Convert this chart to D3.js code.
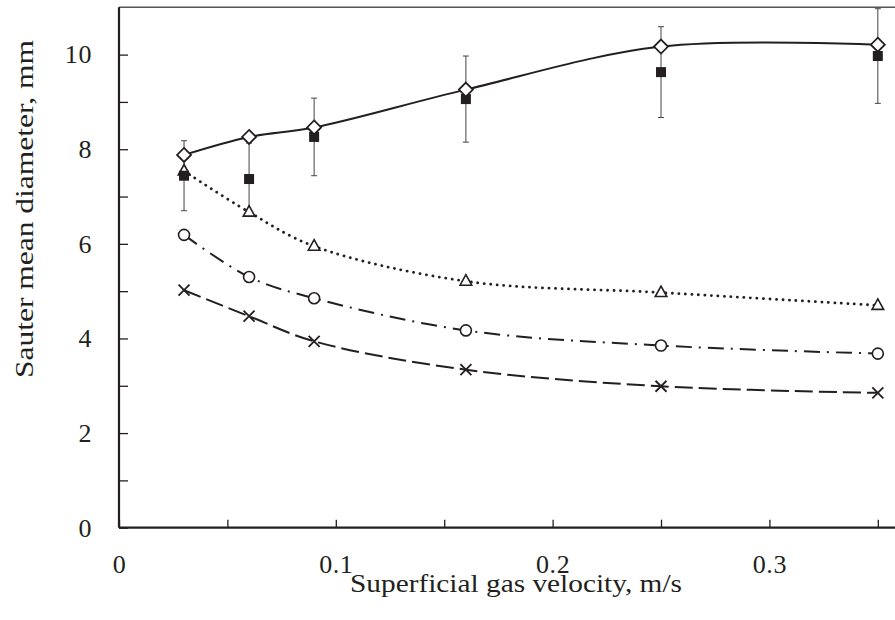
<!DOCTYPE html>
<html><head><meta charset="utf-8">
<script src="https://cdn.jsdelivr.net/npm/d3@7"></script>
<style>body{margin:0;background:#fff}svg{display:block}</style>
</head><body>
<svg id="c" width="895" height="620"></svg>
<script>
const velocity = [0.03, 0.06, 0.09, 0.16, 0.25, 0.35];
const diamondSeries = [7.88, 8.26, 8.46, 9.26, 10.17, 10.21];
const squareSeries = [7.44, 7.37, 8.26, 9.06, 9.63, 9.97];
const squareError = [0.74, 0.76, 0.82, 0.91, 0.96, 1.0];
const triangleSeries = [7.54, 6.67, 5.95, 5.21, 4.97, 4.70];
const circleSeries = [6.19, 5.30, 4.85, 4.17, 3.85, 3.68];
const crossSeries = [5.02, 4.47, 3.94, 3.34, 2.99, 2.85];
const xTickValues = [0, 0.05, 0.1, 0.15, 0.2, 0.25, 0.3, 0.35];
const xTickLabels = ["0", "", "0.1", "", "0.2", "", "0.3", ""];
const yTickValues = [0,1,2,3,4,5,6,7,8,9,10];
const yTickLabels = ["0","","2","","4","","6","","8","","10"];
const xTitle = "Superficial gas velocity, m/s";
const yTitle = "Sauter mean diameter, mm";

const ink = "#231f20";
const font = "Liberation Serif";
const svg = d3.select("#c");
const x = d3.scaleLinear().domain([0, 0.36]).range([119, 119 + 780.5]);
const y = d3.scaleLinear().domain([0, 11]).range([527.7, 7.3]);

// top frame line
svg.append("line").attr("x1", 119).attr("x2", 895).attr("y1", y(11)).attr("y2", y(11))
  .attr("stroke", "#555").attr("stroke-width", 1.5);

// axes
const xa = svg.append("g").attr("transform", `translate(0,${y(0)})`)
  .call(d3.axisBottom(x).tickValues(xTickValues).tickSize(-8).tickPadding(27)
    .tickFormat((d, i) => xTickLabels[i]));
const ya = svg.append("g").attr("transform", `translate(${x(0)},0)`)
  .call(d3.axisLeft(y).tickValues(yTickValues).tickSize(-9).tickPadding(27)
    .tickFormat((d, i) => yTickLabels[i]));
[xa, ya].forEach(g => {
  g.attr("font-family", font).attr("font-size", 26);
  g.select(".domain").attr("stroke", ink).attr("stroke-width", 2.2);
  g.selectAll(".tick line").attr("stroke", ink).attr("stroke-width", 1.3);
  g.selectAll("text").style("font-family", font).style("font-size", "26px").attr("fill", ink)
    .attr("letter-spacing", 0.6);
});
xa.select(".domain").attr("d", `M${x(0)},0H895`);
ya.select(".domain").attr("d", `M0,${y(0)}V${y(11)}`);

const pts = vals => velocity.map((v, i) => [x(v), y(vals[i])]);
const curve = d3.curveCatmullRom.alpha(0.5);
const lineGen = d3.line().curve(curve);

// error bars
const eb = svg.append("g").attr("stroke", "#444").attr("stroke-width", 1);
velocity.forEach((v, i) => {
  const cx = x(v), t = y(squareSeries[i] + squareError[i]), b = y(squareSeries[i] - squareError[i]);
  eb.append("line").attr("x1", cx).attr("x2", cx).attr("y1", t).attr("y2", b);
  eb.append("line").attr("x1", cx - 3).attr("x2", cx + 3).attr("y1", t).attr("y2", t);
  eb.append("line").attr("x1", cx - 3).attr("x2", cx + 3).attr("y1", b).attr("y2", b);
});

// lines
svg.append("path").attr("d", lineGen(pts(diamondSeries))).attr("fill", "none")
  .attr("stroke", ink).attr("stroke-width", 2);
svg.append("path").attr("d", lineGen(pts(triangleSeries))).attr("fill", "none")
  .attr("stroke", ink).attr("stroke-width", 2.8).attr("stroke-linecap", "round")
  .attr("stroke-dasharray", "0.1,6.4");
svg.append("path").attr("d", lineGen(pts(circleSeries))).attr("fill", "none")
  .attr("stroke", ink).attr("stroke-width", 2).attr("stroke-dasharray", "16,7,2,7");
svg.append("path").attr("d", lineGen(pts(crossSeries))).attr("fill", "none")
  .attr("stroke", ink).attr("stroke-width", 2).attr("stroke-dasharray", "18,6");

// triangles
pts(triangleSeries).forEach(([px, py]) => {
  svg.append("path").attr("d", `M${px},${py - 6.5}L${px + 5.8},${py + 4}L${px - 5.8},${py + 4}Z`)
    .attr("fill", "#fff").attr("stroke", ink).attr("stroke-width", 1.6);
});
// circles
pts(circleSeries).forEach(([px, py]) => {
  svg.append("circle").attr("cx", px).attr("cy", py).attr("r", 5.5)
    .attr("fill", "#fff").attr("stroke", ink).attr("stroke-width", 1.6);
});
// crosses
pts(crossSeries).forEach(([px, py]) => {
  svg.append("path").attr("d", `M${px - 5.5},${py - 5.5}L${px + 5.5},${py + 5.5}M${px + 5.5},${py - 5.5}L${px - 5.5},${py + 5.5}`)
    .attr("stroke", ink).attr("stroke-width", 1.8);
});
// squares
pts(squareSeries).forEach(([px, py]) => {
  svg.append("rect").attr("x", px - 5).attr("y", py - 5).attr("width", 10).attr("height", 10)
    .attr("fill", ink);
});
// diamonds
pts(diamondSeries).forEach(([px, py]) => {
  svg.append("path").attr("d", `M${px},${py - 7}L${px + 7},${py}L${px},${py + 7}L${px - 7},${py}Z`)
    .attr("fill", "#fff").attr("stroke", ink).attr("stroke-width", 1.8);
});

// titles
svg.append("text").attr("x", 516).attr("y", 592).attr("text-anchor", "middle")
  .attr("textLength", 332).attr("lengthAdjust", "spacingAndGlyphs")
  .style("font-family", font).style("font-size", "25px").attr("fill", ink).text(xTitle);
svg.append("text").attr("transform", "translate(33,209) rotate(-90)").attr("text-anchor", "middle")
  .attr("textLength", 338).attr("lengthAdjust", "spacingAndGlyphs")
  .style("font-family", font).style("font-size", "25px").attr("fill", ink).text(yTitle);
</script>
</body></html>
